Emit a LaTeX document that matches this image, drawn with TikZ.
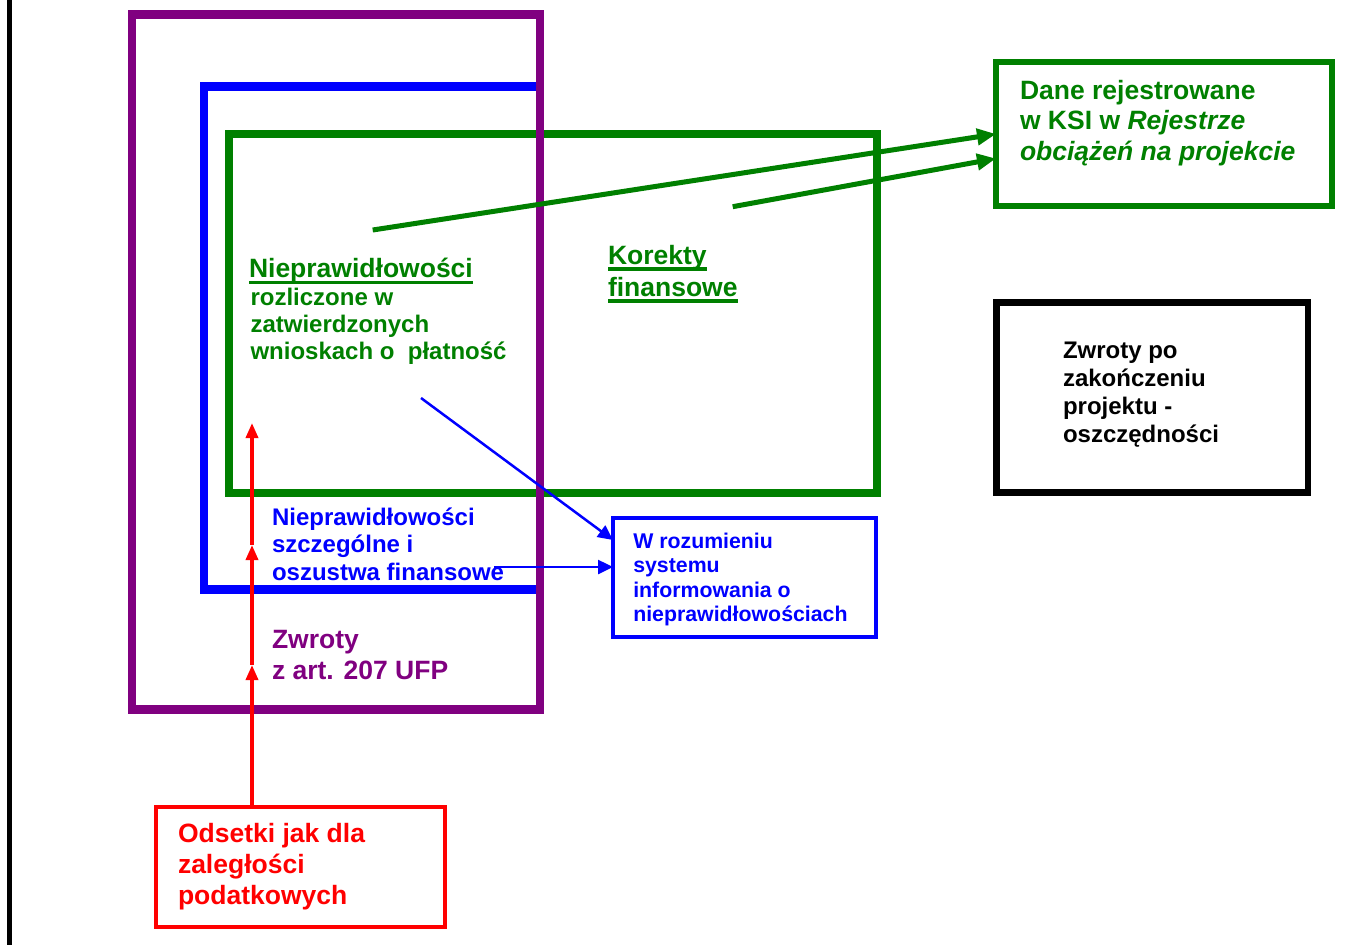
\documentclass[tikz,border=0pt]{standalone}
\usepackage{fontspec}
\setmainfont{Liberation Sans}
\usetikzlibrary{arrows.meta,calc}
\definecolor{cgreen}{RGB}{0,128,0}
\definecolor{cpurple}{RGB}{128,0,128}
\definecolor{cblue}{RGB}{0,0,255}
\definecolor{cred}{RGB}{255,0,0}
\newcommand\ulin[1]{\setbox0\hbox{#1}\rlap{\vrule width\wd0 height -3pt depth 6.5pt}\box0}
\begin{document}
\begin{tikzpicture}[x=1pt,y=-1pt,
  txt/.style={anchor=base west,inner sep=0pt,outer sep=0pt},
  sizeA/.style={font=\fontsize{26.5}{#1}\selectfont\bfseries},
  sizeB/.style={font=\fontsize{24}{#1}\selectfont\bfseries},
  sizeC/.style={font=\fontsize{21.3}{#1}\selectfont\bfseries},
  box/.style={draw,inner sep=0pt,outer sep=0pt},
  garrow/.style={cgreen,line width=5pt,-{Triangle[length=19pt,width=16pt]}},
  barrow/.style={cblue,line width=2.5pt,-{Triangle[length=15pt,width=14pt]}},
  rarrow/.style={cred,line width=3.5pt,-{Triangle[length=15pt,width=12pt]}}]
\useasboundingbox (0,0) rectangle (1351,945);
\fill[white] (0,0) rectangle (1351,945);
% left rule
\draw[line width=4.3pt] (9.5,0) -- (9.5,945);
% nested frames
\draw[cgreen,line width=8pt] (228.5,134.2) rectangle (877,493);
\draw[cblue,line width=8.5pt] (204,86.5) rectangle (540,589.5);
\draw[cpurple,line width=8.5pt] (132,14.5) rectangle (540,709.5);
% boxes
\node[box,draw=cgreen,line width=6pt,minimum width=336pt,minimum height=143.4pt] (dane) at (1164,134) {};
\node[box,draw=black,line width=6.5pt,minimum width=311.3pt,minimum height=190pt] (zwroty) at (1152.3,397.7) {};
\node[box,draw=cblue,line width=4pt,minimum width=263pt,minimum height=119pt] (wroz) at (744.5,577.5) {};
\node[box,draw=cred,line width=4pt,minimum width=288.5pt,minimum height=120pt] (odsetki) at (300.25,866.7) {};
% texts
\node[txt,sizeA=31,text=cgreen] (t1) at (249,277.5) {\ulin{Nieprawidłowości}};
\node[txt,sizeB=27.2,text=cgreen] (t2) at (250.5,305) {\vtop{\hbox{rozliczone w}\hbox{zatwierdzonych}\hbox{wnioskach o\ \ płatność}}};
\node[txt,sizeA=32,text=cgreen] (t3) at (608,264) {\vtop{\hbox{\ulin{Korekty}}\hbox{\ulin{finansowe}}}};
\node[txt,sizeB=27.5,text=cblue] (t4) at (272,525) {\vtop{\hbox{Nieprawidłowości}\hbox{szczególne i}\hbox{oszustwa finansowe}}};
\node[txt,sizeA=31,text=cpurple] (t5) at (272,648) {\vtop{\hbox{Zwroty}\hbox{z art. 207 UFP}}};
\node[txt,sizeA=30.4,text=cgreen] (t6) at (1020,99.3) {\vtop{\hbox{Dane rejestrowane}\hbox{w KSI w \textit{Rejestrze}}\hbox{\textit{obciążeń na projekcie}}}};
\node[txt,sizeB=28,text=black] (t7) at (1063,358) {\vtop{\hbox{Zwroty po}\hbox{zakończeniu}\hbox{projektu -}\hbox{oszczędności}}};
\node[txt,sizeC=24.5,text=cblue] (t8) at (633.3,548.3) {\vtop{\hbox{W rozumieniu}\hbox{systemu}\hbox{informowania o}\hbox{nieprawidłowościach}}};
\node[txt,sizeA=31,text=cred] (t9) at (178,842) {\vtop{\hbox{Odsetki jak dla}\hbox{zaległości}\hbox{podatkowych}}};
% connector free ends
\coordinate (g1) at (372.7,230);
\coordinate (g2) at (732.7,206.7);
\coordinate (b1) at (421,398);
\coordinate (b2) at (494,567);
\coordinate (r1) at (252,665);
\coordinate (r2) at (252,545);
\coordinate (r3) at (252,423);
% connectors
\draw[garrow] (g1) -- (dane.west);
\draw[garrow] (g2) -- ($(dane.west)+(0,24.5)$);
\draw[barrow] (b1) -- ($(wroz.west)+(0,-37.5)$);
\draw[barrow] (b2) -- ($(wroz.west)+(0,-10.5)$);
\draw[rarrow] (odsetki.north -| r1) -- (r1);
\draw[rarrow] (r1) -- (r2);
\draw[rarrow] (r2) -- (r3);
\end{tikzpicture}
\end{document}
